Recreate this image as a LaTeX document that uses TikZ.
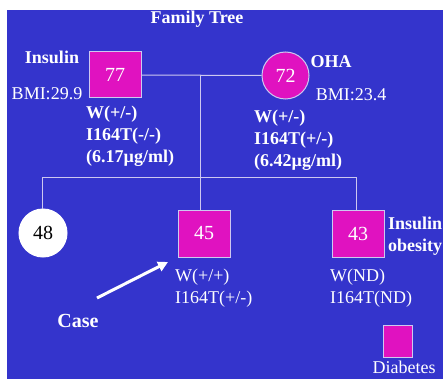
\documentclass[tikz,border=0pt]{standalone}
\usepackage{fontspec}
\setmainfont{Liberation Serif}
\usetikzlibrary{arrows.meta}
\definecolor{slideblue}{RGB}{52,52,204}
\definecolor{affected}{RGB}{224,18,192}
\definecolor{pedline}{RGB}{205,200,240}

\begin{document}
\begin{tikzpicture}[x=1pt, y=-1pt,
        male/.style = {rectangle, draw=pedline, fill=affected, line width=1pt, minimum width=52pt, minimum height=46pt, inner sep=0pt, text=white},
        female/.style = {circle, draw=pedline, fill=affected, line width=1pt, minimum size=47pt, inner sep=0pt, text=white},
        label/.style = {text=white, inner sep=0pt, align=left, font=\fontsize{18}{22}\selectfont},
        boldlabel/.style = {label, font=\fontsize{18}{22}\selectfont\bfseries},
        link/.style = {draw=pedline, line width=1pt}
        ]
        \useasboundingbox (0,0) rectangle (443,379);
        \fill[slideblue] (7,10) rectangle (443,379);

        \node[boldlabel] (title) at (197,19) {Family Tree};

        % parents
        \node[male, font=\fontsize{20}{24}\selectfont] (father) at (115,75) {77};
        \node[female, font=\fontsize{20}{24}\selectfont] (mother) at (285.5,75.5) {72};
        \node[boldlabel] (fathertx) at (52,57) {Insulin};
        \node[label] (fatherbmi) at (47,94) {BMI:29.9};
        \node[boldlabel] (mothertx) at (331,62) {OHA};
        \node[label] (motherbmi) at (351,95) {BMI:23.4};
        \node[boldlabel, anchor=west] (fathergene) at (86,136) {W(+/-)\\I164T(-/-)\\(6.17µg/ml)};
        \node[boldlabel, anchor=west] (mothergene) at (254,140) {W(+/-)\\I164T(+/-)\\(6.42µg/ml)};

        % children
        \node[female, fill=white, text=black, draw=white, minimum size=48pt, font=\fontsize{20}{24}\selectfont] (daughter) at (43,233) {48};
        \node[male, minimum height=47pt, font=\fontsize{20}{24}\selectfont] (proband) at (204,233.5) {45};
        \node[male, minimum height=47pt, font=\fontsize{20}{24}\selectfont] (son) at (358,233.5) {43};
        \node[label, anchor=west] (probandgene) at (175,288) {W(+/+)\\I164T(+/-)};
        \node[label, anchor=west] (songene) at (330,288) {W(ND)\\I164T(ND)};
        \node[boldlabel, anchor=west] (sontx) at (388,236) {Insulin\\obesity};

        % lines of descent
        \coordinate (marriage) at (200,75.5);
        \coordinate (sibship) at (200,177);
        \draw[link] (father) -- (mother);
        \draw[link] (marriage) -- (sibship);
        \draw[link] (daughter.north -| 42,0) -- (42,177) -- (356,177) -- (son.north -| 356,0);
        \draw[link] (sibship) -- (proband.north -| sibship);

        % case pointer
        \node[boldlabel, font=\fontsize{20}{24}\selectfont\bfseries] (case) at (78,321) {Case};
        \coordinate (casetail) at (97,298);
        \coordinate (casetip) at (168,262);
        \draw[white, line width=3pt, -{Triangle[length=10pt, width=10pt]}] (casetail) -- (casetip);

        % legend
        \node[male, minimum width=29pt, minimum height=32pt] (legendbox) at (398,341) {};
        \node[label, anchor=base] (legendtx) at (404,373) {Diabetes};
\end{tikzpicture}
\end{document}
